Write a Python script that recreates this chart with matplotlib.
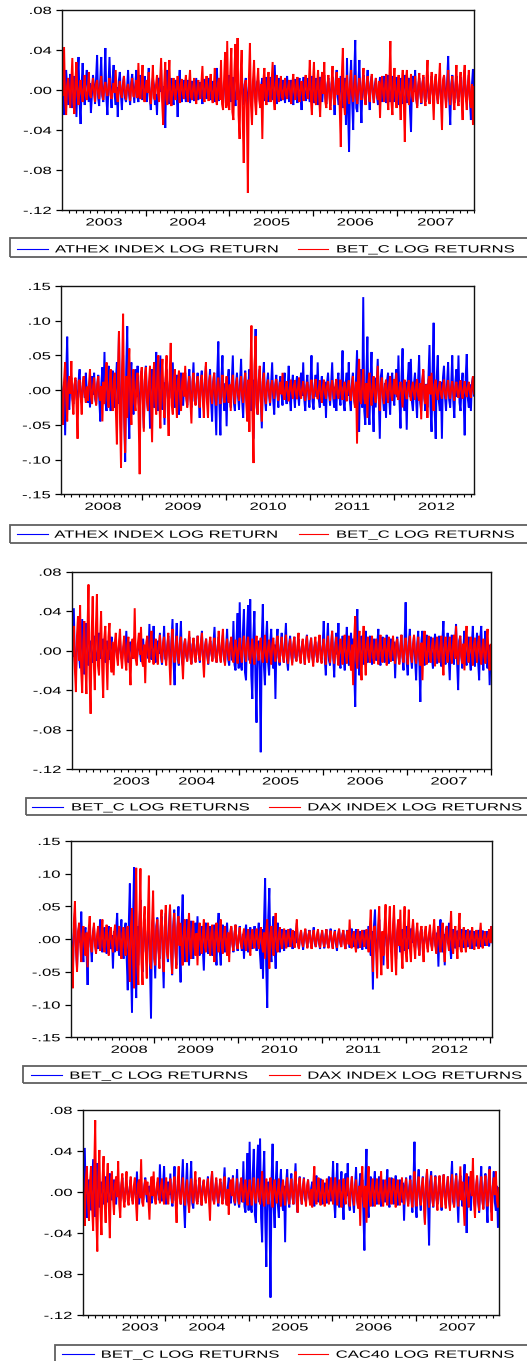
import numpy as np
import matplotlib
matplotlib.use("Agg")
import matplotlib.pyplot as plt
from matplotlib import patheffects
from matplotlib.transforms import Affine2D
from matplotlib.patches import Rectangle
from matplotlib.lines import Line2D

# Daily log returns, thinned to 400 observations per window, in thousandths.
ATHEX_2003_2007 = [
    10, -4, -25, 8, 20, 3, -15, 6, 16, -9, -18, 2, 14, -6, -27, 11, 33, -12, -34, 5,
    27, -3, -15, 9, 20, 1, -12, 7, -23, -5, 15, 4, -14, 12, 35, -8, -16, 10, 33, -6,
    -12, 7, 42, -9, -25, 4, 33, -2, -18, 11, 25, -6, -15, 3, -27, 9, 18, -4, -20, 6,
    14, -8, -12, 2, 20, -5, -15, 8, 16, 1, -13, 6, 20, -7, -12, 4, 15, -3, -10, 5,
    14, -3, -12, 6, 22, -8, -20, 2, 12, 5, -15, -4, -25, 9, 12, -2, 20, -7, -15, 4,
    -38, 11, 20, -6, -14, 3, 12, -5, -15, 7, 10, -2, -27, 6, 20, -9, -12, 3, 10, -4,
    -12, 4, 10, -2, -13, 6, 9, -5, -11, 1, 12, -7, -10, 3, 8, -4, -14, 7, 11, -1,
    -9, 5, 12, -6, -10, 2, 9, -3, -12, 8, 22, -6, -11, 4, 10, -5, -13, 3, 12, -2,
    -14, 5, 15, -3, -12, 7, 13, -6, -16, 2, 14, -8, -12, 4, 16, -2, -15, 6, 12, -5,
    -18, 3, 14, -7, -13, 1, 15, -4, -12, 8, 10, -3, -14, 5, 12, -6, -11, 2, 13, -4,
    -12, 3, 13, -5, -10, 7, 25, -4, -14, 2, 12, -6, -11, 4, 10, -3, -13, 6, 14, -2,
    -12, 5, 10, -7, -15, 1, 11, -4, -13, 6, 12, -3, -20, 4, 13, -5, -11, 2, 12, -6,
    -12, 4, 14, -6, -13, 2, 12, -3, -15, 7, 13, -5, -12, 3, 15, -8, -14, 5, 12, -2,
    -16, 6, 13, -4, -25, 9, 20, -7, -15, 3, 14, -10, -18, 6, 12, -35, 32, -20, -62, 8,
    30, -12, -40, 15, 50, -18, -22, 6, 30, -9, -33, 4, 15, -5, -14, 7, 20, -3, -20, 8,
    14, -2, -13, 5, 12, -6, -15, 3, 13, -4, -12, 6, 14, -1, -13, 5, 15, -7, -12, 3,
    14, -5, -12, 3, 13, -7, -15, 2, 12, -4, -14, 6, 15, -3, -13, 8, 12, -20, -42, 10,
    14, -2, 20, -9, -16, 4, 12, -3, -14, 6, 13, -5, -12, 2, 15, -7, -13, 4, 14, -3,
    -12, 5, 14, -4, -13, 2, 12, -6, -15, 7, 14, -3, -12, 9, 34, -10, -35, 6, 15, -2,
    -13, 4, 14, -7, -12, 3, 13, -5, -14, 8, 20, -6, -12, 4, 15, -9, -30, 5, 21, -8,
]
BETC_2003_2007 = [
    20, -6, 43, -10, -25, 5, 12, -3, -18, 7, 32, -12, -24, 9, 28, -5, -15, 2, 10, -4,
    -12, 3, 15, -6, -10, 1, 18, -5, -8, 4, 12, -2, -12, 6, 10, -3, -9, 5, 14, -4,
    -10, 3, 8, -2, -6, 4, 12, -5, -9, 1, 7, -3, 20, -6, -12, 2, 9, -4, -8, 5,
    14, -3, -10, 2, 6, -1, -11, 4, 12, -6, -7, 3, 10, -8, 27, -5, -9, 6, 25, -7,
    -12, 4, 10, -3, 18, -6, -14, 2, 25, -8, -10, 5, 15, -4, -12, 9, 32, -12, -35, 7,
    28, -9, -15, 6, 30, -11, -16, 3, 12, -5, -10, 4, 14, -2, -13, 6, 11, -3, -9, 5,
    15, -4, -12, 6, 20, -7, -10, 3, 12, -5, -14, 2, 10, -3, -9, 8, 24, -6, -12, 4,
    14, -2, -11, 5, 16, -8, -13, 3, 22, -9, -15, 7, 12, -10, 30, -14, -20, 12, 38, -18,
    49, -15, -20, 18, 42, -22, -30, 20, 46, -10, 52, -25, -49, 15, 40, -30, -73, 5, 10, -20,
    -103, 12, 47, -15, -35, 10, 30, -12, -25, 8, 22, -10, -18, 6, -49, 9, 22, -7, -15, 6,
    18, -5, -12, 8, 28, -10, -20, 6, 15, -4, -12, 3, 14, -7, -10, 2, 12, -5, -9, 4,
    10, -3, -14, 6, 16, -2, -10, 5, 13, -6, -12, 3, 9, -4, -11, 7, 15, -3, -9, 5,
    30, -9, -25, 7, 28, -10, -15, 5, 20, -6, -27, 8, 18, -4, 28, -12, -18, 3, 15, -8,
    -20, 6, 24, -7, -15, 4, 18, -5, 12, -20, -57, 15, 42, -12, -25, 6, 15, -4, -14, 7,
    20, -5, -12, 4, 15, -6, -14, 3, 12, -2, -10, 7, 22, -8, -15, 5, 14, -3, -12, 6,
    16, -4, -13, 2, 12, -5, -10, 9, -28, 6, 14, -3, -12, 5, 16, -7, -20, 10, 49, -12,
    -25, 8, 22, -6, -18, 4, 15, -9, -30, 7, 20, -12, -52, 10, 20, -5, -15, 3, 16, -6,
    -12, 2, 14, -7, -18, 5, 17, -4, -13, 6, 15, -8, -16, 11, 30, -9, -14, 4, 18, -6,
    -30, 9, 16, -5, -14, 8, 27, -12, -40, 10, 15, -6, -18, 4, 20, -7, -15, 3, 14, -9,
    -20, 6, 25, -8, -16, 5, 18, -11, -30, 12, 25, -7, -20, 4, 20, -10, -18, 6, -35, 3,
]
DAX_2003_2007 = [
    -45, 12, 25, -18, -42, 15, 35, -10, 46, -20, -43, 8, 30, -15, -44, 20, 67, -25, -64, 18,
    55, -12, -40, 22, 57, -15, -25, 10, 40, -18, -48, 12, 25, -8, -40, 14, 28, -10, -22, 9,
    -25, 8, 18, -6, -15, 9, 22, -7, -18, 4, 15, -10, -20, 6, 14, -12, -35, 5, 12, -8,
    43, -9, -15, 7, 18, -4, 24, -11, -16, 6, -33, 8, 15, -5, -12, 10, 20, -6, -14, 4,
    12, -5, -14, 6, 16, -3, -12, 8, 14, -6, -15, 4, 18, -9, -35, 7, 22, -5, -12, 3,
    15, -6, -13, 9, 14, -8, -29, 6, 12, -4, -11, 5, 20, -7, -14, 3, 13, -6, -12, 4,
    15, -4, -10, 7, 18, -9, -27, 5, 12, -3, -13, 6, 14, -2, -11, 5, 13, -7, -12, 3,
    20, -5, -12, 8, 22, -6, -15, 4, 12, -3, -10, 6, 14, -5, -12, 2, 11, -4, -13, 5,
    13, -4, -12, 5, 15, -2, -11, 7, 14, -5, -13, 3, 12, -6, -14, 4, 15, -3, -10, 6,
    13, -7, -12, 2, 16, -5, -12, 4, 11, -3, -14, 6, 13, -2, -11, 5, 15, -6, -12, 3,
    14, -5, -12, 3, 16, -7, -13, 4, 12, -2, -15, 6, 14, -4, -11, 5, 18, -6, -13, 2,
    12, -3, -14, 7, 15, -5, -12, 4, 13, -6, -16, 3, 14, -2, -12, 5, 16, -7, -13, 4,
    12, -4, -14, 6, 15, -3, -12, 5, 20, -7, -13, 2, 14, -6, -15, 4, 12, -3, -14, 8,
    16, -5, -13, 3, 15, -8, -20, 6, -35, 12, 35, -10, -18, 7, 20, -9, -30, 8, 25, -6,
    -25, 6, 14, -3, -12, 5, 15, -7, -13, 2, 12, -4, -14, 6, 16, -5, -12, 3, 13, -2,
    -15, 5, 14, -6, -11, 4, 15, -3, -13, 7, 12, -5, -14, 2, 16, -6, -12, 4, 13, -3,
    -14, 5, 15, -4, -12, 6, 16, -3, -13, 2, 14, -7, -15, 8, -30, 6, 20, -5, -14, 3,
    15, -6, -12, 4, 13, -2, -16, 5, 14, -7, -12, 4, 15, -9, -25, 6, 14, -3, -12, 5,
    14, -4, -13, 6, 16, -8, 25, -5, -14, 3, 15, -6, -13, 7, -20, 9, 25, -4, -12, 5,
    14, -3, -15, 6, 13, -2, -12, 8, 15, -5, -14, 3, 12, -6, -13, 7, 22, -8, -20, 6,
]
CAC40_2003_2007 = [
    25, -10, -33, 12, 25, -8, -28, 10, 25, -15, -38, 20, 70, -25, -58, 15, 41, -18, -42, 12,
    35, -10, -30, 9, 28, -12, -45, 10, 20, -6, -22, 8, 15, -5, 30, -12, -25, 7, 18, -6,
    -15, 4, 20, -7, -13, 3, 15, -5, -12, 6, 14, -9, -28, 8, 12, -6, 32, -10, -14, 5,
    12, -3, 10, -8, -27, 6, 15, -4, 20, -7, -12, 5, 14, -3, -11, 6, 13, -5, -12, 4,
    14, -5, -12, 4, 13, -2, -11, 6, 15, -9, -30, 10, 25, -6, -12, 3, 14, -5, -13, 2,
    12, -7, -20, 5, 13, -4, -11, 6, 20, -8, -12, 3, 14, -5, -13, 4, 12, -2, -11, 5,
    13, -7, -28, 9, 20, -6, -12, 3, 14, -4, -11, 5, 13, -2, -12, 6, 15, -5, -13, 3,
    -22, 7, 12, -4, 14, -6, -11, 2, 13, -5, -12, 4, 14, -3, -10, 6, 12, -5, -13, 3,
    12, -3, -13, 5, 14, -6, -11, 2, 13, -4, -12, 7, 20, -8, -14, 3, 13, -5, -12, 4,
    14, -2, -15, 6, 12, -5, -11, 3, 13, -6, -14, 4, 12, -2, -13, 5, 14, -4, -12, 3,
    13, -4, -12, 6, 20, -5, -20, 7, 14, -3, -12, 5, 13, -2, -14, 6, 12, -4, -13, 3,
    -15, 8, 25, -7, -12, 4, 14, -5, -13, 2, 12, -6, -14, 3, 13, -5, -12, 4, 14, -3,
    -12, 5, 14, -3, -13, 6, 12, -4, -15, 2, 13, -5, -12, 7, 14, -6, -14, 4, 15, -3,
    -13, 5, 12, -8, -16, 6, -33, 10, 25, -9, -15, 6, -30, 8, 25, -7, -14, 4, 13, -5,
    -14, 4, 13, -5, -12, 3, 20, -6, -14, 2, 12, -4, -13, 5, 14, -3, -12, 6, 13, -2,
    -15, 5, 12, -4, -13, 3, 14, -6, -12, 4, 13, -5, -14, 2, 12, -6, -15, 5, 20, -7,
    -14, 5, 15, -4, -13, 6, 14, -10, -32, 8, 22, -5, -15, 4, 16, -7, -14, 3, 15, -6,
    -18, 5, 16, -4, -15, 8, 17, -6, -16, 3, 15, -5, -18, 7, 17, -4, -15, 6, 16, -5,
    -14, 6, 25, -8, 10, -12, -33, 9, 18, -5, -15, 7, 20, -4, 33, -10, -25, 6, 16, -8,
    -18, 5, 15, -7, -17, 4, 16, -6, -14, 8, 22, -9, -28, 5, 14, -3, 20, -8, -15, 4,
]
ATHEX_2008_2012 = [
    10, -8, -25, 12, -65, 20, 77, -15, -28, 9, 18, -12, -20, 6, 15, -10, -22, 14, 30, -9,
    -18, 5, 20, -11, 25, -6, -18, 8, -25, 12, 20, -7, 25, -13, -20, 9, 22, -15, -45, 10,
    33, -12, 55, -18, -30, 10, 35, -15, -30, 12, 28, -9, -25, 14, 40, -20, 85, -30, -60, 22,
    50, -35, -103, 30, 92, -25, -70, 20, 40, -15, -35, 12, 30, -10, 35, -18, -30, 11, 28, -12,
    -55, 15, 35, -12, -30, 8, -55, 18, 30, -10, -25, 12, 55, -20, -30, 9, 50, -15, -28, 11,
    -50, 14, 30, -8, -25, 10, 28, -12, 40, -14, -25, 7, 22, -10, -35, 12, 25, -9, -22, 8,
    25, -8, -22, 10, 30, -12, -25, 6, 40, -15, -20, 9, 25, -11, -40, 14, 28, -7, -25, 10,
    35, -12, -22, 8, 30, -16, -45, 12, 25, -20, -65, 25, 70, -20, -65, 18, 50, -15, -30, 10,
    -52, 14, 30, -10, -25, 12, 50, -18, -30, 9, 25, -8, -28, 13, 45, -15, -40, 10, 28, -9,
    -25, 7, 30, -12, -30, 15, -70, 20, 88, -25, -35, 12, 30, -14, -55, 16, 40, -12, -30, 9,
    25, -7, -22, 9, 40, -14, -35, 8, 22, -6, -25, 10, 20, -5, -22, 7, 25, -9, -20, 4,
    35, -11, -30, 8, 22, -6, -25, 9, 20, -4, -22, 10, 25, -8, 40, -13, -30, 7, 22, -9,
    -25, 9, 50, -16, -28, 7, 22, -10, 40, -13, -25, 6, 20, -8, -22, 12, -40, 10, 25, -7,
    -22, 9, 40, -12, -25, 5, -30, 11, 25, -9, -22, 14, 57, -18, -30, 10, 25, -8, 40, -15,
    -30, 10, 25, -12, -22, 15, 57, -20, -60, 18, 30, -25, 134, -30, -50, 20, 77, -25, -50, 15,
    55, -20, -60, 18, -25, 10, 45, -15, -70, 20, 30, -12, -30, 10, -40, 14, 25, -10, -35, 12,
    25, -9, -22, 12, 30, -10, 50, -15, -55, 20, 60, -18, -30, 12, -57, 15, 40, -10, 45, -16,
    -30, 9, 25, -12, -40, 14, 50, -18, -30, 10, 28, -11, -30, 9, -25, 20, 65, -25, -60, 30,
    97, -30, -70, 20, 50, -15, -30, 12, -70, 18, 35, -10, -30, 12, 40, -14, -25, 9, 50, -16,
    -40, 12, 30, -10, 50, -18, -30, 9, 25, -15, -65, 20, 52, -12, -25, 8, -30, 10, 20, -8,
]
BETC_2008_2012 = [
    20, -10, -50, 15, 40, -12, -45, 10, 20, -5, 42, -15, -35, 8, 18, -20, -70, 12, 15, -8,
    -35, 10, 20, -6, -18, 5, -15, 9, 30, -10, -20, 6, 18, -8, -22, 7, 20, -9, -15, 6,
    -45, 12, -20, 15, 40, -14, -25, 10, 30, -12, -30, 15, 25, -30, -78, 25, 85, -40, -112, 30,
    110, -35, -90, 20, -40, 25, 60, -20, -50, 15, 30, -18, -30, 12, 25, -40, -121, 20, 33, -15,
    -60, 20, 33, -15, -30, 12, 35, -20, -75, 18, 40, -15, -35, 22, 50, -18, -55, 20, 45, -15,
    -40, 18, 50, -20, -66, 25, 68, -22, -35, 15, 30, -12, -40, 14, 28, -10, -30, 12, 25, -9,
    35, -12, -25, 8, 20, -15, -48, 12, 25, -9, -22, 7, 20, -10, -25, 11, 22, -14, -40, 15,
    40, -16, -40, 12, 22, -8, -20, 9, 25, -10, -22, 6, 18, -7, -20, 8, 22, -9, -18, 5,
    20, -6, -18, 8, -30, 10, 22, -7, -20, 5, 18, -6, -15, 4, 20, -8, -18, 6, 25, -20,
    -45, 15, -60, 30, 93, -40, -105, 35, 78, -20, -35, 15, 35, -15, -45, 12, 25, -9, -20, 7,
    15, -5, -18, 6, 14, -3, -12, 7, 16, -4, -15, 5, 12, -6, 25, -8, -14, 3, 13, -5,
    -16, 4, 15, -2, -12, 6, 14, -4, -13, 5, 18, -7, -12, 3, 13, -6, -15, 4, 12, -3,
    -14, 4, 15, -6, -12, 3, 16, -5, -13, 2, 14, -7, -18, 5, 15, -4, -12, 6, 13, -3,
    -15, 5, 14, -2, -13, 6, 16, -5, -12, 3, 15, -6, -14, 4, 12, -3, -16, 7, 14, -5,
    -15, 6, 20, -10, -25, 12, -77, 20, 45, -15, -20, 8, 30, -12, -20, 10, -40, 12, 25, -9,
    -22, 7, 20, -8, -18, 10, 35, -12, -30, 9, 18, -7, -20, 6, 15, -5, -18, 8, 20, -7,
    -15, 5, 16, -6, 25, -9, -14, 4, 12, -7, -25, 8, 15, -5, -13, 3, 14, -6, -15, 4,
    12, -5, -14, 6, 16, -8, -15, 10, -42, 14, 30, -12, -20, 8, -40, 15, 20, -6, 25, -10,
    -30, 8, 15, -5, -14, 4, 13, -6, -12, 3, 15, -5, -13, 2, 14, -6, -12, 4, 13, -3,
    -15, 5, 12, -4, -11, 6, 14, -5, -12, 3, 13, -4, -10, 5, 12, -3, -11, 6, 20, -5,
]
DAX_2008_2012 = [
    5, -20, -75, 25, 58, -15, -50, 12, 25, -10, -35, 8, 20, -9, -25, 10, -43, 15, 35, -12,
    -20, 6, 25, -10, -22, 8, 20, -7, -18, 9, 30, -11, -20, 7, 22, -9, -25, 10, 18, -6,
    -20, 8, 22, -7, -18, 6, 20, -10, -30, 9, 18, -12, -25, 15, 20, -25, -65, 20, 47, -30,
    -75, 35, 109, -40, -70, 30, 108, -35, -70, 25, 50, -20, -60, 30, 97, -35, -45, 25, 74, -30,
    -40, 15, 30, -18, -45, 20, 45, -15, -50, 18, 52, -20, -30, 12, 53, -22, -53, 15, 40, -12,
    -45, 18, 35, -10, 25, -15, -40, 12, 30, -10, -35, 14, 40, -15, -30, 10, 28, -11, -25, 9,
    -40, 12, 25, -9, -22, 8, 30, -12, -20, 7, 25, -10, -25, 9, 22, -11, -35, 10, 25, -8,
    -20, 9, 30, -12, -22, 6, 20, -8, -25, 10, -35, 12, 20, -7, -18, 8, 22, -6, -15, 5,
    18, -6, -15, 5, 16, -7, -18, 4, 15, -10, -25, 6, 15, -5, -14, 7, 16, -4, -15, 6,
    18, -8, -20, 10, -30, 12, 30, -15, -45, 10, 20, -12, -25, 14, 40, -15, -20, 8, 18, -6,
    -15, 5, 16, -4, -14, 6, 15, -3, -12, 4, 14, -6, -13, 10, 30, -8, -15, 3, 14, -5,
    -12, 4, 16, -2, -14, 6, 13, -4, -15, 5, 14, -3, -12, 6, 15, -5, -13, 2, 14, -4,
    -12, 3, 15, -6, -14, 4, 13, -2, -15, 5, 12, -4, -13, 6, 16, -3, -12, 5, 14, -7,
    -15, 4, 13, -8, 30, -10, -14, 5, 12, -8, -20, 6, 15, -4, -13, 5, 14, -3, -12, 6,
    15, -8, -20, 15, 45, -15, -50, 18, 20, -20, -60, 22, 50, -18, -55, 12, -25, 20, 53, -20,
    -45, 18, 50, -15, -50, 20, 52, -22, -55, 15, 30, -10, 45, -18, -45, 16, 50, -20, -35, 12,
    45, -15, -35, 12, 30, -10, -30, 9, 25, -8, -25, 11, 20, -12, -35, 10, 20, -7, -20, 8,
    22, -6, -18, 9, 30, -10, -22, 7, 20, -9, -20, 8, 25, -12, -35, 10, 20, -6, -18, 7,
    43, -12, -22, 8, 20, -10, -30, 12, 40, -15, -20, 7, 18, -6, -20, 5, 15, -4, -15, 6,
    18, -5, -16, 4, 14, -3, -15, 6, 25, -8, -14, 3, 12, -4, -10, 5, 15, -6, 20, -4,
]

# Axis and legend texts
YEARS_2003_2007 = ["2003", "2004", "2005", "2006", "2007"]
YEARS_2008_2012 = ["2008", "2009", "2010", "2011", "2012"]
NAME_ATHEX = "ATHEX INDEX LOG RETURN"
NAME_BETC = "BET_C LOG RETURNS"
NAME_DAX = "DAX INDEX LOG RETURNS"
NAME_CAC = "CAC40 LOG RETURNS"

FIG_W, FIG_H, DPI = 527, 1361, 100
FS = 7.5
WIDEN = 1.6
PT = 72.0 / DPI  # points per pixel

plt.rcParams["font.family"] = ["Liberation Sans", "DejaVu Sans"]


class Widen(patheffects.AbstractPathEffect):
    """Draw glyph outlines stretched horizontally about a fixed anchor."""

    def __init__(self, anchor="left", factor=WIDEN):
        super().__init__()
        self._anchor = anchor
        self._factor = factor

    def draw_path(self, renderer, gc, tpath, affine, rgbFace=None):
        verts = tpath.vertices
        if len(verts) == 0:
            return
        xs = verts[:, 0]
        if self._anchor == "right":
            x0 = xs.max()
        elif self._anchor == "center":
            x0 = 0.5 * (xs.min() + xs.max())
        else:
            x0 = 0.0
        stretch = Affine2D().translate(-x0, 0).scale(self._factor, 1.0).translate(x0, 0)
        renderer.draw_path(gc, tpath, stretch + affine, rgbFace)


def fmt_tick(v):
    s = f"{abs(v):.2f}".lstrip("0")
    return ("-" if v < -1e-9 else "") + s


def fx(px):
    return px / FIG_W


def fy(py):
    return 1.0 - py / FIG_H


fig = plt.figure(figsize=(FIG_W / DPI, FIG_H / DPI), dpi=DPI)
fig.patch.set_facecolor("white")

panels = [
    dict(box=(62, 10, 474, 210), span=(2003.0, 2007.92), ylim=(-0.12, 0.08), nticks=6,
         labels=YEARS_2003_2007, label_at=[2003.5, 2004.5, 2005.5, 2006.5, 2007.46],
         series=[(ATHEX_2003_2007, "#0000ff"), (BETC_2003_2007, "#ff0000")],
         names=[NAME_ATHEX, NAME_BETC],
         legend=dict(left=9.5, top=238, bottom=257.3, y=248.7,
                     line1=(16.7, 48.3), text1=55, line2=(298.3, 328.3), text2=336)),
    dict(box=(61, 286, 474, 494.3), span=(2008.042, 2012.947), ylim=(-0.15, 0.15), nticks=7,
         labels=YEARS_2008_2012, label_at=[2008.54, 2009.49, 2010.5, 2011.5, 2012.5],
         series=[(ATHEX_2008_2012, "#0000ff"), (BETC_2008_2012, "#ff0000")],
         names=[NAME_ATHEX, NAME_BETC],
         legend=dict(left=9.5, top=525, bottom=543.3, y=534,
                     line1=(16.7, 47.7), text1=54.3, line2=(299, 328.3), text2=336)),
    dict(box=(71.7, 571.7, 490.7, 769), span=(2003.0, 2008.0), ylim=(-0.12, 0.08), nticks=6,
         labels=YEARS_2003_2007, label_at=[2003.71, 2004.49, 2005.49, 2006.5, 2007.5],
         series=[(BETC_2003_2007, "#0000ff"), (DAX_2003_2007, "#ff0000")],
         names=[NAME_BETC, NAME_DAX],
         legend=dict(left=25.7, top=798.3, bottom=815, y=806.7,
                     line1=(32.3, 63.3), text1=71, line2=(269.3, 300), text2=307.3)),
    dict(box=(70.7, 841, 492.3, 1037.3), span=(2008.004, 2013.03), ylim=(-0.15, 0.15), nticks=7,
         labels=YEARS_2008_2012, label_at=[2008.7, 2009.49, 2010.49, 2011.49, 2012.52],
         series=[(BETC_2008_2012, "#0000ff"), (DAX_2008_2012, "#ff0000")],
         names=[NAME_BETC, NAME_DAX],
         legend=dict(left=23.3, top=1065.7, bottom=1083.3, y=1075,
                     line1=(31, 62.3), text1=69.3, line2=(269.3, 300), text2=307.3)),
    dict(box=(82.7, 1110, 499, 1315), span=(2003.017, 2007.99), ylim=(-0.12, 0.08), nticks=6,
         labels=YEARS_2003_2007, label_at=[2003.7, 2004.5, 2005.49, 2006.49, 2007.49],
         series=[(BETC_2003_2007, "#0000ff"), (CAC40_2003_2007, "#ff0000")],
         names=[NAME_BETC, NAME_CAC],
         legend=dict(left=55, top=1345, bottom=1364, y=1354,
                     line1=(62.3, 94), text1=100.7, line2=(297.7, 328.3), text2=335.7)),
]

for p in panels:
    left, top, right, bottom = p["box"]
    ax = fig.add_axes([fx(left), fy(bottom), (right - left) / FIG_W, (bottom - top) / FIG_H])
    ax.set_facecolor("white")
    x0, x1 = p["span"]

    for values, color in p["series"]:
        y = np.asarray(values, dtype=float) / 1000.0
        x = np.linspace(x0, x1, len(y))
        ax.plot(x, y, color=color, lw=1.4, solid_joinstyle="miter", antialiased=True)

    ax.set_xlim(x0, x1)
    ax.set_ylim(*p["ylim"])

    # y axis: ticks and labels
    yt = np.linspace(p["ylim"][0], p["ylim"][1], p["nticks"])
    ax.set_yticks(yt)
    ax.set_yticklabels([fmt_tick(v) for v in yt])
    ax.tick_params(axis="y", which="major", direction="out", length=6 * PT, width=0.9,
                   pad=3.2, labelsize=FS, left=True, right=False, colors="black")
    for lab in ax.get_yticklabels():
        lab.set_path_effects([Widen("right")])

    # x axis: year boundaries (major) and months (minor)
    months = np.arange(np.ceil(x0 * 12 - 1e-6), np.floor(x1 * 12 + 1e-6) + 1) / 12.0
    years = [m for m in months if abs(m - round(m)) < 1e-6 and m > x0 + 1e-3]
    minors = [m for m in months if abs(m - round(m)) >= 1e-6]
    ax.set_xticks(years)
    ax.set_xticks(minors, minor=True)
    ax.tick_params(axis="x", which="major", direction="out", length=5.5 * PT, width=0.9,
                   bottom=True, top=False, labelbottom=False)
    ax.tick_params(axis="x", which="minor", direction="out", length=3 * PT, width=0.8,
                   bottom=True, top=False, labelbottom=False)

    for text, pos in zip(p["labels"], p["label_at"]):
        ax.annotate(text, xy=(pos, 0), xycoords=("data", "axes fraction"),
                    xytext=(0, -15.5 * PT), textcoords="offset points",
                    ha="center", va="baseline", fontsize=FS,
                    path_effects=[Widen("center")], annotation_clip=False)

    for side in ("left", "right", "top", "bottom"):
        ax.spines[side].set_linewidth(1.0)
        ax.spines[side].set_color("#111111")

    # legend drawn in figure pixels
    lg = p["legend"]
    fig.add_artist(Rectangle((fx(lg["left"]), fy(lg["bottom"])),
                             (FIG_W + 10 - lg["left"]) / FIG_W,
                             (lg["bottom"] - lg["top"]) / FIG_H,
                             transform=fig.transFigure, fill=False,
                             edgecolor="#606060", lw=1.3))
    for (la, lb), (_, color) in zip((lg["line1"], lg["line2"]), p["series"]):
        fig.add_artist(Line2D([fx(la), fx(lb)], [fy(lg["y"])] * 2,
                              transform=fig.transFigure, color=color, lw=0.8))
    for tx, name in zip((lg["text1"], lg["text2"]), p["names"]):
        fig.text(fx(tx), fy(lg["y"] + 3.7), name, ha="left", va="baseline",
                 fontsize=FS, path_effects=[Widen("left")])

fig.savefig("out.png", dpi=DPI, facecolor="white")
